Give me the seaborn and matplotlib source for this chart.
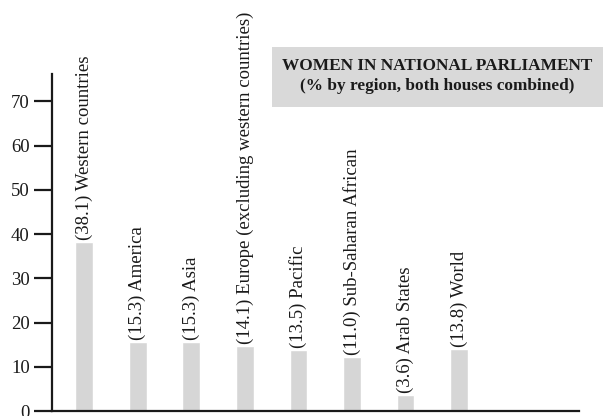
import matplotlib
matplotlib.use("Agg")
import matplotlib.pyplot as plt
import seaborn as sns
import pandas as pd
from matplotlib.patches import Rectangle

regions = ["Western countries", "America", "Asia",
           "Europe (excluding western countries)", "Pacific",
           "Sub-Saharan African", "Arab States", "World"]
shares = [38.1, 15.3, 15.3, 14.1, 13.5, 11.0, 3.6, 13.8]
bar_heights = [38.3, 15.7, 15.7, 14.7, 13.8, 12.3, 3.6, 14.0]
yticks = [0, 10, 20, 30, 40, 50, 60, 70]
title_lines = ["WOMEN IN NATIONAL PARLIAMENT", "(% by region, both houses combined)"]

df = pd.DataFrame({"region": regions, "height": bar_heights})

sns.set_style("white")
plt.rcParams["font.family"] = ["Liberation Serif", "DejaVu Serif"]

fig = plt.figure(figsize=(6.06, 4.16), dpi=100)
ax = fig.add_axes([0.0858, 0.012, 0.869, 0.81])

sns.barplot(data=df, x="region", y="height", order=regions, color="#d6d6d6",
            saturation=1, width=0.33, ax=ax)

for i, (r, s, h) in enumerate(zip(regions, shares, bar_heights)):
    ax.text(i, h + 0.4, f"({s:.1f}) {r}", rotation=90, ha="center", va="bottom",
            fontsize=13.5, color="#1a1a1a")

ax.set_xlim(-0.6, 9.23)
ax.set_ylim(0, 76.2)
ax.set_yticks(yticks)
ax.set_yticklabels([str(t) for t in yticks], fontsize=13.5, color="#1a1a1a")
ax.set_xticks([])
ax.set_xlabel("")
ax.set_ylabel("")
for side in ["top", "right"]:
    ax.spines[side].set_visible(False)
for side in ["left", "bottom"]:
    ax.spines[side].set_color("#1a1a1a")
    ax.spines[side].set_linewidth(1.6)
ax.tick_params(axis="y", direction="out", length=13, width=1.6, color="#1a1a1a", pad=3, left=True)

# title box
fig.patches.append(Rectangle((272 / 606, 1 - 107 / 416), 331 / 606, 60 / 416,
                             transform=fig.transFigure, facecolor="#d9d9d9",
                             edgecolor="none", zorder=0))
fig.text(437.5 / 606, 1 - 66 / 416, title_lines[0], ha="center", va="center",
         fontsize=12.4, fontweight="bold", color="#1a1a1a")
fig.text(437.5 / 606, 1 - 86 / 416, title_lines[1], ha="center", va="center",
         fontsize=12.4, fontweight="bold", color="#1a1a1a")

fig.savefig("out.png", dpi=100)
